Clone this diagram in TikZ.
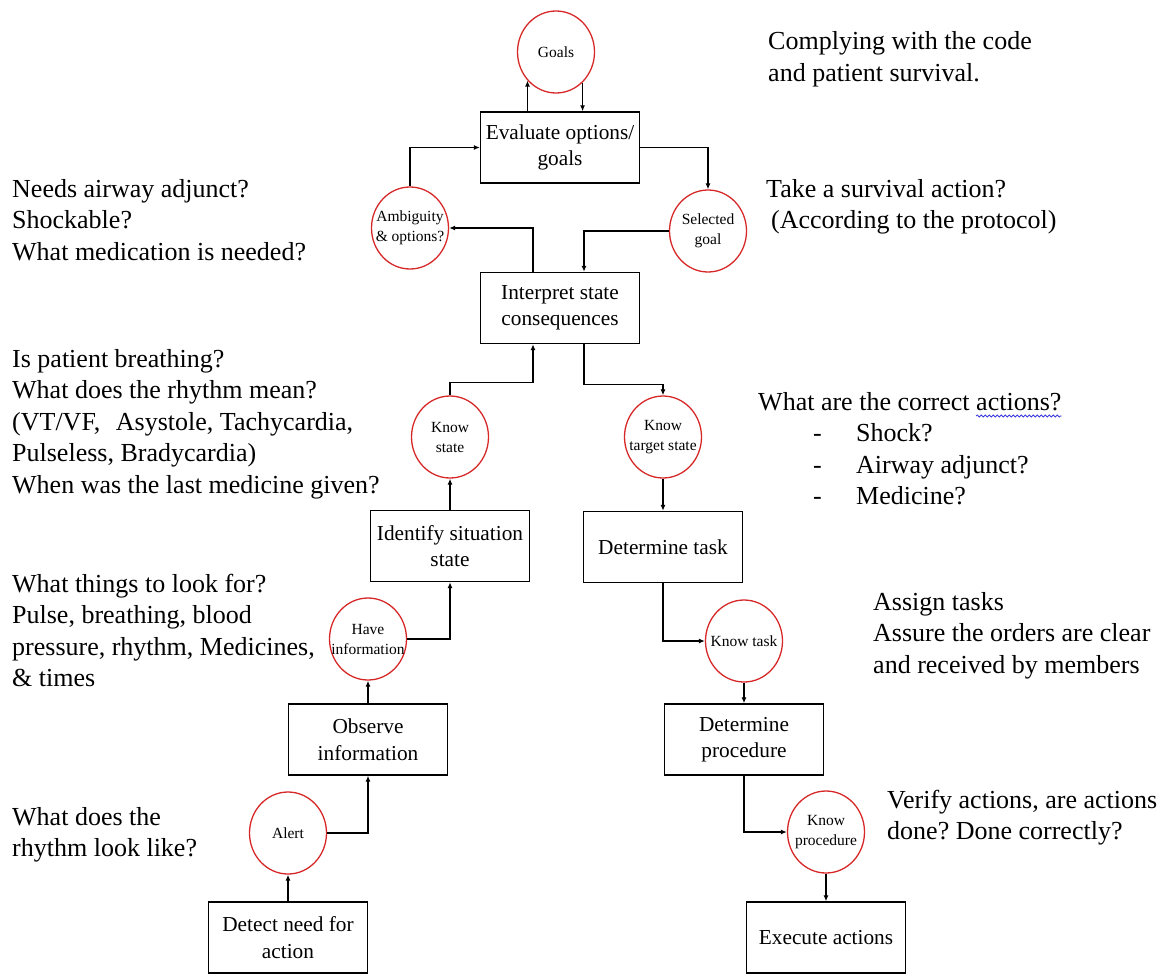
\documentclass[tikz,border=0pt]{standalone}
\usepackage{fontspec}
\setmainfont{Liberation Serif}
\usetikzlibrary{shapes.geometric,arrows.meta,decorations.pathmorphing}
\definecolor{cred}{RGB}{215,40,40}
\definecolor{wavyblue}{RGB}{60,60,220}
\frenchspacing
\begin{document}
\begin{tikzpicture}[x=1pt,y=-1pt,
  box/.style={draw=black, line width=1.4pt, minimum width=159pt, minimum height=71pt, inner sep=0pt, align=center, font=\fontsize{21.3}{26.5}\selectfont},
  cnode/.style={ellipse, draw=cred, line width=1.3pt, minimum width=77pt, minimum height=82pt, inner sep=0pt},
  ctext/.style={align=center, font=\fontsize{15.5}{20}\selectfont, inner sep=0pt},
  side/.style={anchor=north west, align=left, inner sep=0pt, font=\fontsize{26}{31.5}\selectfont},
  arr/.style={line width=1.3pt, -{Latex[length=6pt,width=5pt]}},
]
\useasboundingbox (0,0) rectangle (1166,974);

% boxes
\node[box] (eval) at (560,147.5) {Evaluate options/\\goals};
\node[box] (interp) at (560,308) {Interpret state\\consequences};
\node[box] (ident) at (450,546) {Identify situation\\state};
\node[box] (dtask) at (663,547) {Determine task};
\node[box] (observe) at (368,739.5) {Observe\\information};
\node[box] (detect) at (288,937.5) {Detect need for\\action};
\node[box] (dproc) at (744,739.5) {Determine\\procedure};
\node[box] (exec) at (826,937.5) {Execute actions};

% circles
\node[cnode, label={[ctext]center:Goals}] (goals) at (556,52) {};
\node[cnode, label={[ctext]center:{Ambiguity\\\& options?}}] (amb) at (410,228) {};
\node[cnode, label={[ctext]center:{Selected\\goal}}] (sel) at (708,231) {};
\node[cnode, label={[ctext]center:{Know\\state}}] (ks) at (450,437) {};
\node[cnode, label={[ctext]center:{Know\\target state}}] (kts) at (663,437) {};
\node[cnode, label={[ctext]center:{Have\\information}}] (hi) at (368,639) {};
\node[cnode, label={[ctext]center:Alert}] (alert) at (288,833) {};
\node[cnode, label={[ctext]center:Know task}] (kt) at (744,641) {};
\node[cnode, label={[ctext]center:{Know\\procedure}}] (kp) at (826,832) {};

% connectors
\draw[arr] (goals.225 |- eval.north) -- (goals.225);
\draw[arr] (goals.311) -- (goals.311 |- eval.north);
\draw[arr] (amb.north) |- (eval.west);
\draw[arr] (eval.east) -| (sel.north);
\draw[arr] ([xshift=-27pt]interp.north) |- (amb.east);
\draw[arr] (sel.west) -| ([xshift=24pt]interp.north);
\draw[arr] (ks.north) -- ++(0,-13) -| ([xshift=-27pt]interp.south);
\draw[arr] ([xshift=24pt]interp.south) -- ++(0,40) -| (kts.north);
\draw[arr] (ident.north) -- (ks.south);
\draw[arr] (kts.south) -- (dtask.north);
\draw[arr] (hi.east) -| (ident.south);
\draw[arr] (observe.north) -- (hi.south);
\draw[arr] (alert.east) -| (observe.south);
\draw[arr] (detect.north) -- (alert.south);
\draw[arr] (dtask.south) |- (kt.west);
\draw[arr] (kt.south) -- (dproc.north);
\draw[arr] (dproc.south) |- (kp.west);
\draw[arr] (kp.south) -- (exec.north);

% side texts
\node[side] (comply) at (768,27.5) {\strut Complying with the code\\and patient survival.};
\node[side] (take) at (766,175) {\strut Take a survival action?\\\hspace*{5pt}(According to the protocol)};
\node[side] (needs) at (12,175) {\strut Needs airway adjunct?\\Shockable?\\What medication is needed?};
\node[side] (breath) at (12,345) {\strut Is patient breathing?\\What does the rhythm mean?\\(VT/VF,\hspace{0.6em}Asystole, Tachycardia,\\Pulseless, Bradycardia)\\When was the last medicine given?};
\node[side, anchor=base west] (correct) at (758,410) {What are the correct actions?};
\node[side] (actlist) at (813,419.5) {\strut\makebox[43pt][l]{-}Shock?\\\makebox[43pt][l]{-}Airway adjunct?\\\makebox[43pt][l]{-}Medicine?};
\draw[wavyblue, line width=0.8pt, decorate, decoration={snake, segment length=4pt, amplitude=1pt}] ([xshift=218pt,yshift=-6pt]correct.base west) -- ([yshift=-6pt]correct.base east);
\node[side] (look) at (12,570) {\strut What things to look for?\\Pulse, breathing, blood\\pressure, rhythm, Medicines,\\\& times};
\node[side] (assign) at (873,588) {\strut Assign tasks\\Assure the orders are clear\\and received by members};
\node[side] (verify) at (887,786) {\strut Verify actions, are actions\\done? Done correctly?};
\node[side] (rhythm) at (12,803) {\strut What does the\\rhythm look like?};
\end{tikzpicture}
\end{document}
